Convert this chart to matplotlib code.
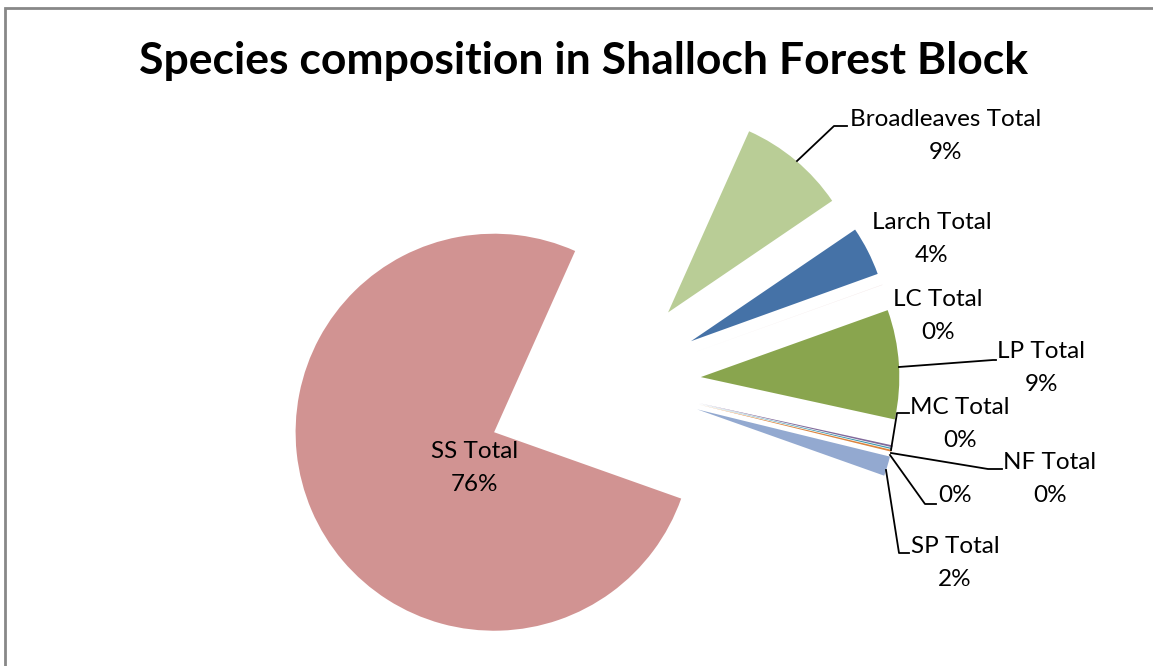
import matplotlib.pyplot as plt
from matplotlib.patches import Rectangle

# species share (percent), clockwise from the first slice
species = ["Broadleaves Total", "Larch Total", "LC Total", "LP Total", "MC Total",
           "NF Total", "", "SP Total", "SS Total"]
share = [8.8, 4.0, 0.03, 8.9, 0.15, 0.1, 0.15, 1.6, 76.27]
colors = ["#B9CD96", "#4572A7", "#F2E4E4", "#89A54E", "#80699B",
          "#3D96AE", "#DB843D", "#93A9D0", "#D19392"]
explode = [92, 92, 92, 92, 92, 92, 92, 92, 125]

W, H = 1153, 666

fig = plt.figure(figsize=(W / 100, H / 100), dpi=100)
ax = fig.add_axes([0, 0, 1, 1])

ax.pie(share, colors=colors, explode=explode, startangle=65.9, counterclock=False,
       center=(609, H - 383), radius=198.5, wedgeprops=dict(linewidth=0))
ax.set_xlim(0, W)
ax.set_ylim(0, H)
ax.axis("off")

# chart border
ax.add_patch(Rectangle((4.5, -10), W + 10, H - 7.5 + 10, fill=False,
                       edgecolor="#888888", linewidth=2, clip_on=False))

ax.text(584, H - 61, "Species composition in Shalloch Forest Block",
        ha="center", va="center", fontsize=32, fontweight="bold", family="Lato")


def pct(v):
    return f"{round(v)}%"


def lab(i, x, y):
    name = species[i]
    txt = pct(share[i]) if name == "" else f"{name}\n{pct(share[i])}"
    ax.text(x, H - y, txt, ha="center", va="center", fontsize=17.5,
            family="Lato", linespacing=1.65)


def leader(pts):
    ax.plot([p[0] for p in pts], [H - p[1] for p in pts], color="black", lw=1.3)


lab(0, 946, 136)
leader([(797, 161), (834, 126), (847, 126)])
lab(1, 932, 239)
lab(2, 938, 316)
lab(3, 1041, 368)
leader([(899, 367), (993, 360), (996, 360)])
lab(4, 960, 424)
leader([(891, 450), (897, 413), (909, 413)])
lab(5, 1050, 479)
leader([(891, 453), (988, 469), (1002, 469)])
lab(6, 955, 495)
leader([(890, 455), (925, 504), (936, 504)])
lab(7, 955, 563)
leader([(886, 470), (899, 553), (909, 553)])
lab(8, 475, 468)

fig.savefig("out.png", dpi=100)
